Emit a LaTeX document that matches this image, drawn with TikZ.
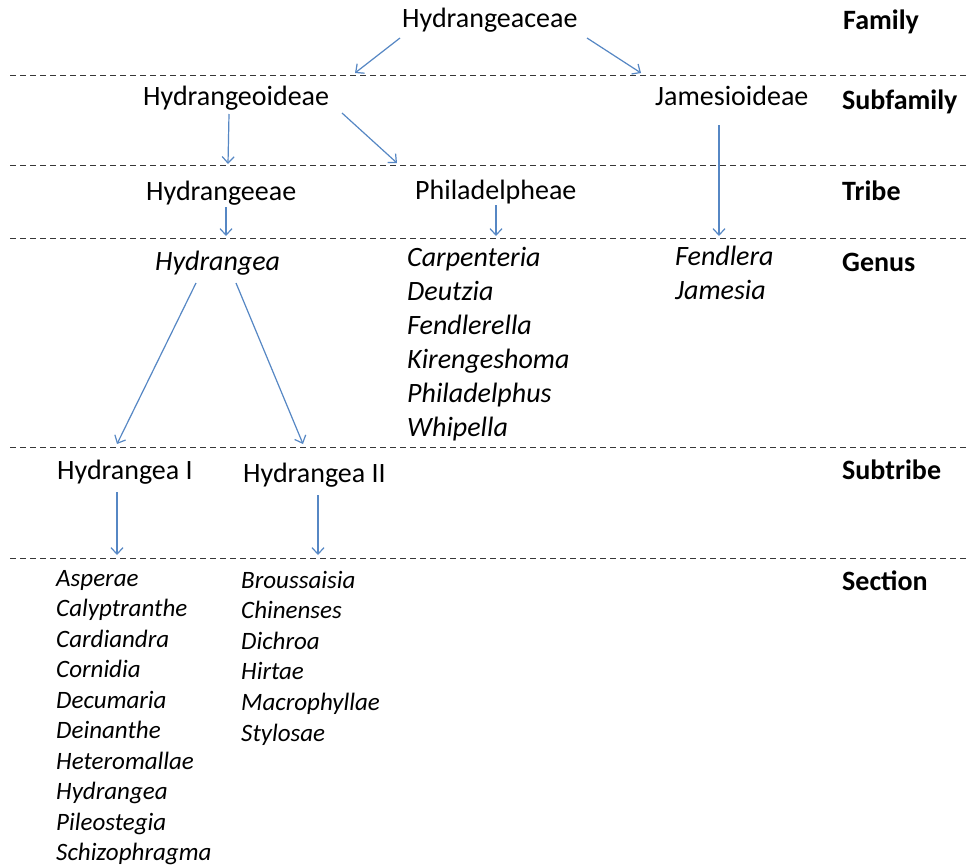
\documentclass[tikz,border=0pt]{standalone}
\usepackage{fontspec}
\setmainfont{Carlito}
\usetikzlibrary{arrows.meta}
\definecolor{arrblue}{RGB}{86,135,196}
\definecolor{dashgray}{RGB}{55,55,55}
\begin{document}
\begin{tikzpicture}[x=1pt,y=-1pt,
  txt/.style={inner sep=0pt,anchor=base west,font=\fontsize{28}{34}\selectfont},
  itxt/.style={txt,font=\fontsize{28}{34}\selectfont\itshape},
  stxt/.style={inner sep=0pt,anchor=base west,font=\fontsize{25}{30}\selectfont\itshape},
  rank/.style={inner sep=0pt,anchor=base west,font=\fontsize{28}{34}\selectfont\bfseries},
  sep/.style={dashgray,line width=1pt,dash pattern=on 6pt off 4pt},
  arr/.style={arrblue,line width=1.2pt,-{Straight Barb[length=6.5pt,width=12pt]}}]
\useasboundingbox (0,0) rectangle (969,867);
\fill[white] (0,0) rectangle (969,867);

% separators
\foreach \y/\n in {76/a,165/b,238/c,447/d,558/e}{
  \coordinate (sl\n) at (10,\y);
  \coordinate (sr\n) at (969,\y);
  \draw[sep] (sl\n) -- (sr\n);
}

% rank labels
\node[rank] (rFamily) at (843,30) {Family};
\node[rank] (rSubfamily) at (842,109) {Subfamily};
\node[rank] (rTribe) at (842,200) {Tribe};
\node[rank] (rGenus) at (842,271) {Genus};
\node[rank] (rSubtribe) at (842,479) {Subtribe};
\node[rank] (rSection) at (842,590) {Section};

% taxa
\node[txt] (fam) at (402,28) {Hydrangeaceae};
\node[txt] (hydoid) at (143,106) {Hydrangeoideae};
\node[txt] (jamoid) at (655,106) {Jamesioideae};
\node[txt] (hydeae) at (146,200) {Hydrangeeae};
\node[txt] (phil) at (415,199) {Philadelpheae};
\node[itxt] (hydgen) at (155,270) {Hydrangea};
\node[txt] (hydI) at (57,479) {Hydrangea I};
\node[txt] (hydII) at (243,482) {Hydrangea II};

% genus lists
\foreach \t [count=\i] in {Carpenteria,Deutzia,Fendlerella,Kirengeshoma,Philadelphus,Whipella}{
  \node[itxt] (pg\i) at (407,{266+34*(\i-1)}) {\t};
}
\node[itxt] (jg1) at (675,265) {Fendlera};
\node[itxt] (jg2) at (675,299) {Jamesia};

% section lists
\foreach \t [count=\i] in {Asperae,Calyptranthe,Cardiandra,Cornidia,Decumaria,Deinanthe,Heteromallae,Hydrangea,Pileostegia,Schizophragma}{
  \node[stxt] (sa\i) at (56,{586+30.5*(\i-1)}) {\t};
}
\foreach \t [count=\i] in {Broussaisia,Chinenses,Dichroa,Hirtae,Macrophyllae,Stylosae}{
  \node[stxt] (sb\i) at (241,{588+30.6*(\i-1)}) {\t};
}

% arrow end points
\coordinate (a1s) at (400,38);  \coordinate (a1e) at (355,73);
\coordinate (a2s) at (587,38);  \coordinate (a2e) at (641,73);
\coordinate (a3s) at (229,114); \coordinate (a3e) at (228,164);
\coordinate (a4s) at (342,113); \coordinate (a4e) at (397,163);
\coordinate (a5s) at (719,125); \coordinate (a5e) at (719,236);
\coordinate (a6s) at (226,207); \coordinate (a6e) at (226,236);
\coordinate (a7s) at (496,205); \coordinate (a7e) at (496,236);
\coordinate (a8s) at (196,283); \coordinate (a8e) at (117,444);
\coordinate (a9s) at (236,283); \coordinate (a9e) at (303,444);
\coordinate (a10s) at (117,492); \coordinate (a10e) at (117,555);
\coordinate (a11s) at (318,495); \coordinate (a11e) at (318,555);

\foreach \k in {1,...,11}{
  \draw[arr] (a\k s) -- (a\k e);
}
\end{tikzpicture}
\end{document}
